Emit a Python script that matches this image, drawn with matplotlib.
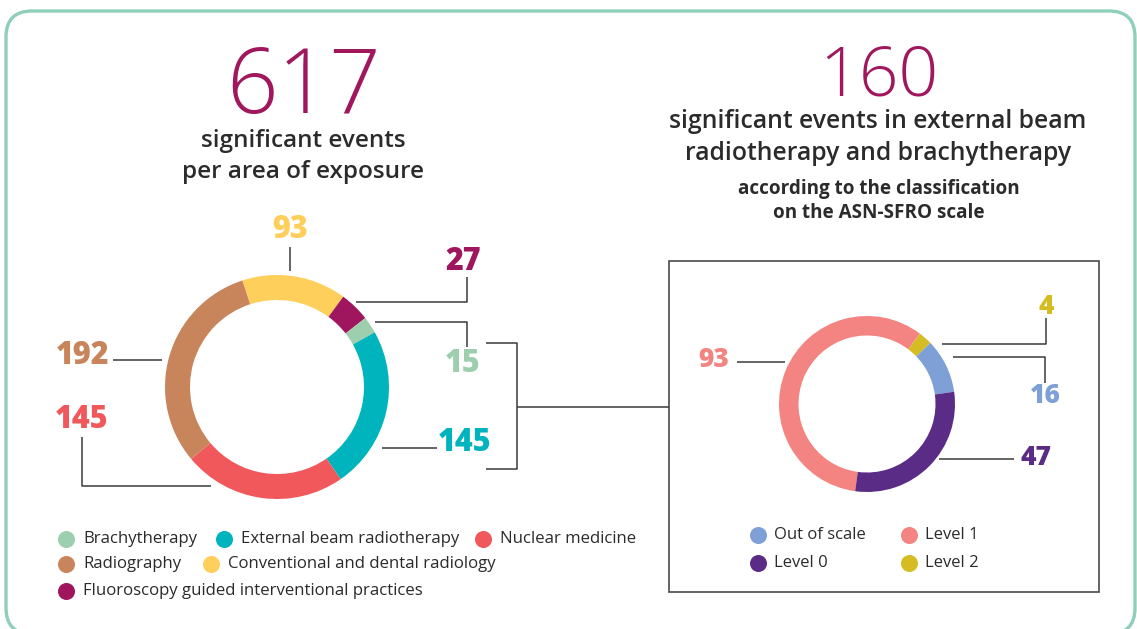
import matplotlib.pyplot as plt
from matplotlib.patches import FancyBboxPatch, Rectangle

W, H = 1137, 629

# left donut: significant events per area of exposure (clockwise from the top)
area_labels = [
    "Conventional and dental radiology",
    "Fluoroscopy guided interventional practices",
    "Brachytherapy",
    "External beam radiotherapy",
    "Nuclear medicine",
    "Radiography",
]
area_values = [93, 27, 15, 145, 145, 192]
area_colors = ["#ffcf5c", "#a0165e", "#9dcfae", "#00b4bd", "#f0585b", "#c8845a"]
area_total = 617

# right donut: events on the ASN-SFRO scale (clockwise from level 1)
scale_labels = ["Level 1", "Level 2", "Out of scale", "Level 0"]
scale_values = [93, 4, 16, 47]
scale_colors = ["#f38482", "#d4bc22", "#7fa0d6", "#5b2c86"]
scale_total = 160

FONT = "Open Sans"
TEXT = "#2b2b2b"
LINE = "#3a3a3a"
plt.rcParams["font.family"] = [FONT, "DejaVu Sans"]


def Y(y):
    # picture rows run downwards
    return H - y


def leader(ax, pts):
    ax.plot([p[0] for p in pts], [Y(p[1]) for p in pts], color=LINE, lw=1.1,
            solid_capstyle="butt", zorder=2)


def main():
    fig = plt.figure(figsize=(W / 100, H / 100), dpi=100)
    ax = fig.add_axes([0, 0, 1, 1])

    ax.add_patch(FancyBboxPatch((6, Y(634)), 1129, 623,
                                boxstyle="round,pad=0,rounding_size=26",
                                fc="white", ec="#8fcfb8", lw=2.4, zorder=0))

    ax.pie(area_values, colors=area_colors, center=(277, Y(387)), radius=112,
           startangle=108, counterclock=False,
           wedgeprops=dict(width=25, linewidth=0))
    ax.pie(scale_values, colors=scale_colors, center=(867, Y(404)), radius=88,
           startangle=262.25, counterclock=False,
           wedgeprops=dict(width=19.5, linewidth=0))

    # headline numbers and titles
    ax.text(304, Y(113), str(area_total), ha="center", va="baseline",
            fontsize=65, fontweight="light", color="#a0175e")
    ax.text(303, Y(141), "significant events", ha="center", va="center",
            fontsize=17.5, fontweight="semibold", color=TEXT)
    ax.text(303, Y(172), "per area of exposure", ha="center", va="center",
            fontsize=17.5, fontweight="semibold", color=TEXT)

    ax.text(879, Y(96), str(scale_total), ha="center", va="baseline",
            fontsize=50, fontweight="light", color="#a0175e")
    ax.text(878, Y(121), "significant events in external beam", ha="center",
            va="center", fontsize=17.8, fontweight="semibold", color=TEXT)
    ax.text(878, Y(153), "radiotherapy and brachytherapy", ha="center",
            va="center", fontsize=17.8, fontweight="semibold", color=TEXT)
    ax.text(879, Y(189), "according to the classification", ha="center",
            va="center", fontsize=13.6, fontweight="bold", color=TEXT)
    ax.text(879, Y(213), "on the ASN-SFRO scale", ha="center", va="center",
            fontsize=13.6, fontweight="bold", color=TEXT)

    # left donut value labels
    big = dict(ha="center", va="center", fontsize=22, fontweight="heavy")
    ax.text(290, Y(230), str(area_values[0]), color=area_colors[0], **big)
    ax.text(463, Y(262), str(area_values[1]), color=area_colors[1], **big)
    ax.text(463, Y(364), str(area_values[2]), color=area_colors[2], **big)
    ax.text(465, Y(443), str(area_values[3]), color=area_colors[3], **big)
    ax.text(82, Y(420), str(area_values[4]), color=area_colors[4], **big)
    ax.text(82, Y(356), str(area_values[5]), color=area_colors[5], **big)

    leader(ax, [(290, 247), (290, 271)])
    leader(ax, [(356, 302), (467, 302), (467, 277)])
    leader(ax, [(375, 322), (467, 322), (467, 347)])
    leader(ax, [(382, 448), (437, 448)])
    leader(ax, [(211, 486), (82, 486), (82, 437)])
    leader(ax, [(113, 360), (162, 360)])

    # bracket linking to the right panel
    leader(ax, [(486, 343), (517, 343), (517, 469), (486, 469)])
    leader(ax, [(517, 407), (669, 407)])

    ax.add_patch(Rectangle((669, Y(592)), 430, 331, fc="none", ec="#4a4a4a",
                           lw=1.2, zorder=1))

    # right donut value labels
    mid = dict(ha="center", va="center", fontsize=19, fontweight="heavy")
    ax.text(714, Y(360), str(scale_values[0]), color=scale_colors[0], **mid)
    ax.text(1046, Y(307), str(scale_values[1]), color=scale_colors[1], **mid)
    ax.text(1045, Y(396), str(scale_values[2]), color=scale_colors[2], **mid)
    ax.text(1036, Y(458), str(scale_values[3]), color=scale_colors[3], **mid)

    leader(ax, [(737, 362), (785, 362)])
    leader(ax, [(942, 344), (1046, 344), (1046, 318)])
    leader(ax, [(953, 357), (1045, 357), (1045, 383)])
    leader(ax, [(939, 459), (1014, 459)])

    # legends
    left_legend = [
        (2, 66, 539), (3, 224, 539), (4, 483, 539),
        (5, 66, 564), (0, 211, 564),
        (1, 66, 591),
    ]
    for i, x, y in left_legend:
        ax.scatter([x], [Y(y)], s=150, color=area_colors[i], lw=0, zorder=3)
        ax.text(x + 17, Y(y), area_labels[i], ha="left", va="center",
                fontsize=12.1, color=TEXT)

    right_legend = [(2, 758, 535), (0, 909, 535), (3, 758, 563), (1, 909, 563)]
    for i, x, y in right_legend:
        ax.scatter([x], [Y(y)], s=150, color=scale_colors[i], lw=0, zorder=3)
        ax.text(x + 16, Y(y), scale_labels[i], ha="left", va="center",
                fontsize=12, color=TEXT)

    ax.set_xlim(0, W)
    ax.set_ylim(0, H)
    ax.set_aspect("equal")
    ax.axis("off")

    fig.savefig("out.png", dpi=100)
    plt.close(fig)


if __name__ == "__main__":
    main()
